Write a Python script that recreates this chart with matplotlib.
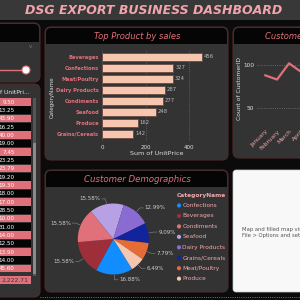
import numpy as np
import matplotlib
matplotlib.use('Agg')
import matplotlib.pyplot as plt
from matplotlib.patches import FancyBboxPatch, Rectangle, Circle
from matplotlib.lines import Line2D

# ---- data ----
bar_cats = ['Beverages', 'Confections', 'Meat/Poultry', 'Dairy Products',
            'Condiments', 'Seafood', 'Produce', 'Grains/Cereals']
bar_vals = [456, 327, 324, 287, 277, 248, 162, 142]

months = ['January', 'February', 'March', 'April']
cust_counts = [88, 83, 102, 92]

pie_cats = ['Confections', 'Beverages', 'Condiments', 'Seafood',
            'Dairy Products', 'Grains/Cereals', 'Meat/Poultry', 'Produce']
pie_pcts = [16.88, 15.58, 15.58, 15.58, 12.99, 9.09, 7.79, 6.49]
pie_colors = ['#118dff', '#9e2f3a', '#e0707a', '#b7a1e4',
              '#8a6bd1', '#12239e', '#e66c37', '#f5c7b1']

table_vals = ['9.50', '13.25', '43.90', '16.25', '40.00', '19.00', '7.45',
              '23.25', '23.79', '19.20', '19.30', '18.00', '17.00', '28.50',
              '10.00', '31.00', '14.00', '12.50', '13.90', '14.00', '45.60']
table_total = '2,222.71'

PINK = '#e0707a'
PANEL = '#333333'
BORDER = '#4e2a2c'
W = H = 300.0

fig = plt.figure(figsize=(3, 3), dpi=100)
fig.patch.set_facecolor('#0b0b0b')


def box(x0, y0, x1, y1, fc, ec='none', lw=0, r=0, z=0.5):
    if r > 0:
        p = FancyBboxPatch((x0 / W, 1 - y1 / H), (x1 - x0) / W, (y1 - y0) / H,
                           boxstyle='round,pad=0,rounding_size=%f' % (r / W),
                           transform=fig.transFigure, fc=fc, ec=ec, lw=lw, zorder=z)
    else:
        p = Rectangle((x0 / W, 1 - y1 / H), (x1 - x0) / W, (y1 - y0) / H,
                      transform=fig.transFigure, fc=fc, ec=ec, lw=lw, zorder=z)
    fig.add_artist(p)


def txt(x, y, s, **kw):
    kw.setdefault('zorder', 6)
    fig.text(x / W, 1 - y / H, s, **kw)


def axes_px(x0, y0, x1, y1):
    ax = fig.add_axes([x0 / W, 1 - y1 / H, (x1 - x0) / W, (y1 - y0) / H])
    ax.set_zorder(5)
    ax.patch.set_alpha(0)
    return ax


def panel(x0, y0, x1, y1, hdr=17):
    box(x0, y0, x1, y1, PANEL, ec=BORDER, lw=0.8, r=6)
    box(x0 + 1, y0 + 1, x1 - 1, y0 + hdr, '#050505', r=5, z=0.6)
    box(x0 + 1, y0 + 8, x1 - 1, y0 + hdr, '#050505', z=0.6)


# title band
box(0, 0, 300, 20, '#383838', z=0.4)
txt(154, 10, 'DSG EXPORT BUSINESS DASHBOARD', ha='center', va='center',
    color='#f2a4ab', fontsize=9, fontweight='bold', fontstyle='italic')

# slicer panel (top-left)
panel(-10, 23, 40, 82, hdr=19)
txt(30, 46, 'v', ha='center', va='center', color='#777777', fontsize=4)
fig.add_artist(Line2D([0, 26 / W], [1 - 70 / H] * 2, transform=fig.transFigure,
                      color=PINK, lw=1.0, zorder=6))
fig.add_artist(Circle((26 / W, 1 - 70 / H), 4 / W, transform=fig.transFigure,
                      fc='white', ec=PINK, lw=0.8, zorder=7))

# table panel
box(-10, 84, 40, 297, PANEL, ec=BORDER, lw=0.8, r=6)
txt(30, 92.5, 'Sum of UnitPri...', ha='right', va='center', color='#e8e8e8', fontsize=4.3)
row_h = 8.33
for i, v in enumerate(table_vals):
    y0 = 98 + i * row_h
    fc = PINK if i % 2 == 0 else '#050505'
    box(0, y0, 31, y0 + row_h - 0.6, fc, z=0.7)
    txt(14.5, y0 + row_h / 2, v, ha='right', va='center', color='white', fontsize=4.1)
box(0, 275.5, 31, 284, PINK, z=0.7)
txt(28, 280, table_total, ha='right', va='center', color='#3a3a3a', fontsize=4.3)
box(32.5, 98, 36, 276, '#555555', z=0.7)
box(33, 143, 35.5, 274, '#8a8a8a', z=0.8)

# ---- bar chart panel ----
panel(45, 27, 228, 160)
txt(137, 36.5, 'Top Product by sales', ha='center', va='center', color=PINK,
    fontsize=6, fontstyle='italic')
ax = axes_px(102.3, 50.1, 211.1, 140.6)
y = np.arange(len(bar_cats))
ax.barh(y, bar_vals, height=0.72, color='#f7c6ae', edgecolor='#6b4a44', lw=0.6, zorder=3)
for yi, v in zip(y, bar_vals):
    ax.text(v + 8, yi, str(v), va='center', ha='left', color='#bbbbbb', fontsize=3.8)
ax.set_xlim(0, 500)
ax.set_ylim(len(bar_cats) - 0.4, -0.6)
ax.set_yticks(y)
ax.set_yticklabels(bar_cats, color=PINK, fontsize=3.7, fontweight='bold')
ax.set_xticks([0, 200, 400])
ax.tick_params(axis='x', colors='#dddddd', labelsize=4, length=0, pad=3)
ax.tick_params(axis='y', length=0, pad=2.5)
ax.grid(axis='x', color='#777777', ls=':', lw=0.5)
for s in ax.spines.values():
    s.set_visible(False)
ax.set_xlabel('Sum of UnitPrice', color='#dddddd', fontsize=4.6, labelpad=1)
txt(52.5, 97, 'CategoryName', rotation=90, ha='center', va='center',
    color='#dddddd', fontsize=4.0)

# ---- line chart panel ----
panel(233, 27, 320, 158)
txt(265, 36.5, 'Customers by Month', ha='left', va='center', color=PINK,
    fontsize=6, fontstyle='italic')
ax2 = axes_px(257, 56.5, 325, 120.5)
ax2.plot(range(len(months)), cust_counts, color=PINK, lw=1.6,
         solid_joinstyle='round', solid_capstyle='round')
ax2.set_xlim(-0.67, 5.0)
ax2.set_ylim(35, 110)
ax2.set_yticks([50, 100])
ax2.set_xticks(range(len(months)))
ax2.set_xticklabels(months, rotation=45, ha='right', rotation_mode='anchor',
                    color='#f0a8ae', fontsize=4.2)
ax2.tick_params(axis='y', colors='#dddddd', labelsize=4.2, length=0, pad=2)
ax2.tick_params(axis='x', length=0, pad=6)
ax2.grid(axis='y', color='#777777', ls=':', lw=0.6)
for s in ax2.spines.values():
    s.set_visible(False)
txt(239.5, 89, 'Count of CustomerID', rotation=90, ha='center', va='center',
    color='#dddddd', fontsize=4.3)

# ---- pie panel ----
panel(45, 170, 228, 292)
txt(137, 179, 'Customer Demographics', ha='center', va='center', color=PINK,
    fontsize=6.2, fontstyle='italic')
R = 35.5
lim = 1.9
cx, cy = 113.3, 239
ax3 = axes_px(cx - lim * R, cy - lim * R, cx + lim * R, cy + lim * R)
wedges, _ = ax3.pie(pie_pcts, colors=pie_colors, startangle=-58, counterclock=False,
                    radius=1.0, wedgeprops=dict(lw=0))
ax3.set_xlim(-lim, lim)
ax3.set_ylim(-lim, lim)
ax3.axis('off')
for w, p in zip(wedges, pie_pcts):
    a = np.deg2rad((w.theta1 + w.theta2) / 2)
    c, s = np.cos(a), np.sin(a)
    x1, y1 = 1.02 * c, 1.02 * s
    x2, y2 = 1.15 * c, 1.15 * s
    side = 1 if c >= 0 else -1
    x3 = x2 + 0.1 * side
    ax3.plot([x1, x2, x3], [y1, y2, y2], color='#888888', lw=0.4)
    ax3.text(x3 + 0.04 * side, y2, '%.2f%%' % p, ha='left' if side > 0 else 'right',
             va='center', color='#cccccc', fontsize=4)

# legend
txt(177, 195.7, 'CategoryName', ha='left', va='center', color='#f0a8ae',
    fontsize=4.2, fontweight='bold')
for i, (n, c) in enumerate(zip(pie_cats, pie_colors)):
    yy = 205.5 + i * 10.45
    fig.add_artist(Circle((179 / W, 1 - yy / H), 2.1 / W, transform=fig.transFigure,
                          fc=c, ec='none', zorder=6))
    txt(182.5, yy, n, ha='left', va='center', color='#f0a8ae', fontsize=4.2)

# ---- map placeholder ----
box(233, 170, 320, 292, '#f8f8f8', ec='#cccccc', lw=0.5, r=3)
txt(241.5, 229, 'Map and filled map visuals are disabled.', ha='left', va='center',
    color='#555555', fontsize=3.8)
txt(241.5, 235.5, 'File > Options and settings > Options', ha='left', va='center',
    color='#555555', fontsize=3.8)

# dotted divider
fig.add_artist(Line2D([40 / W, 1], [1 - 297 / H] * 2, transform=fig.transFigure,
                      color='#999999', lw=0.6, ls=':', zorder=6))

fig.savefig('out.png', dpi=100, facecolor=fig.get_facecolor())
